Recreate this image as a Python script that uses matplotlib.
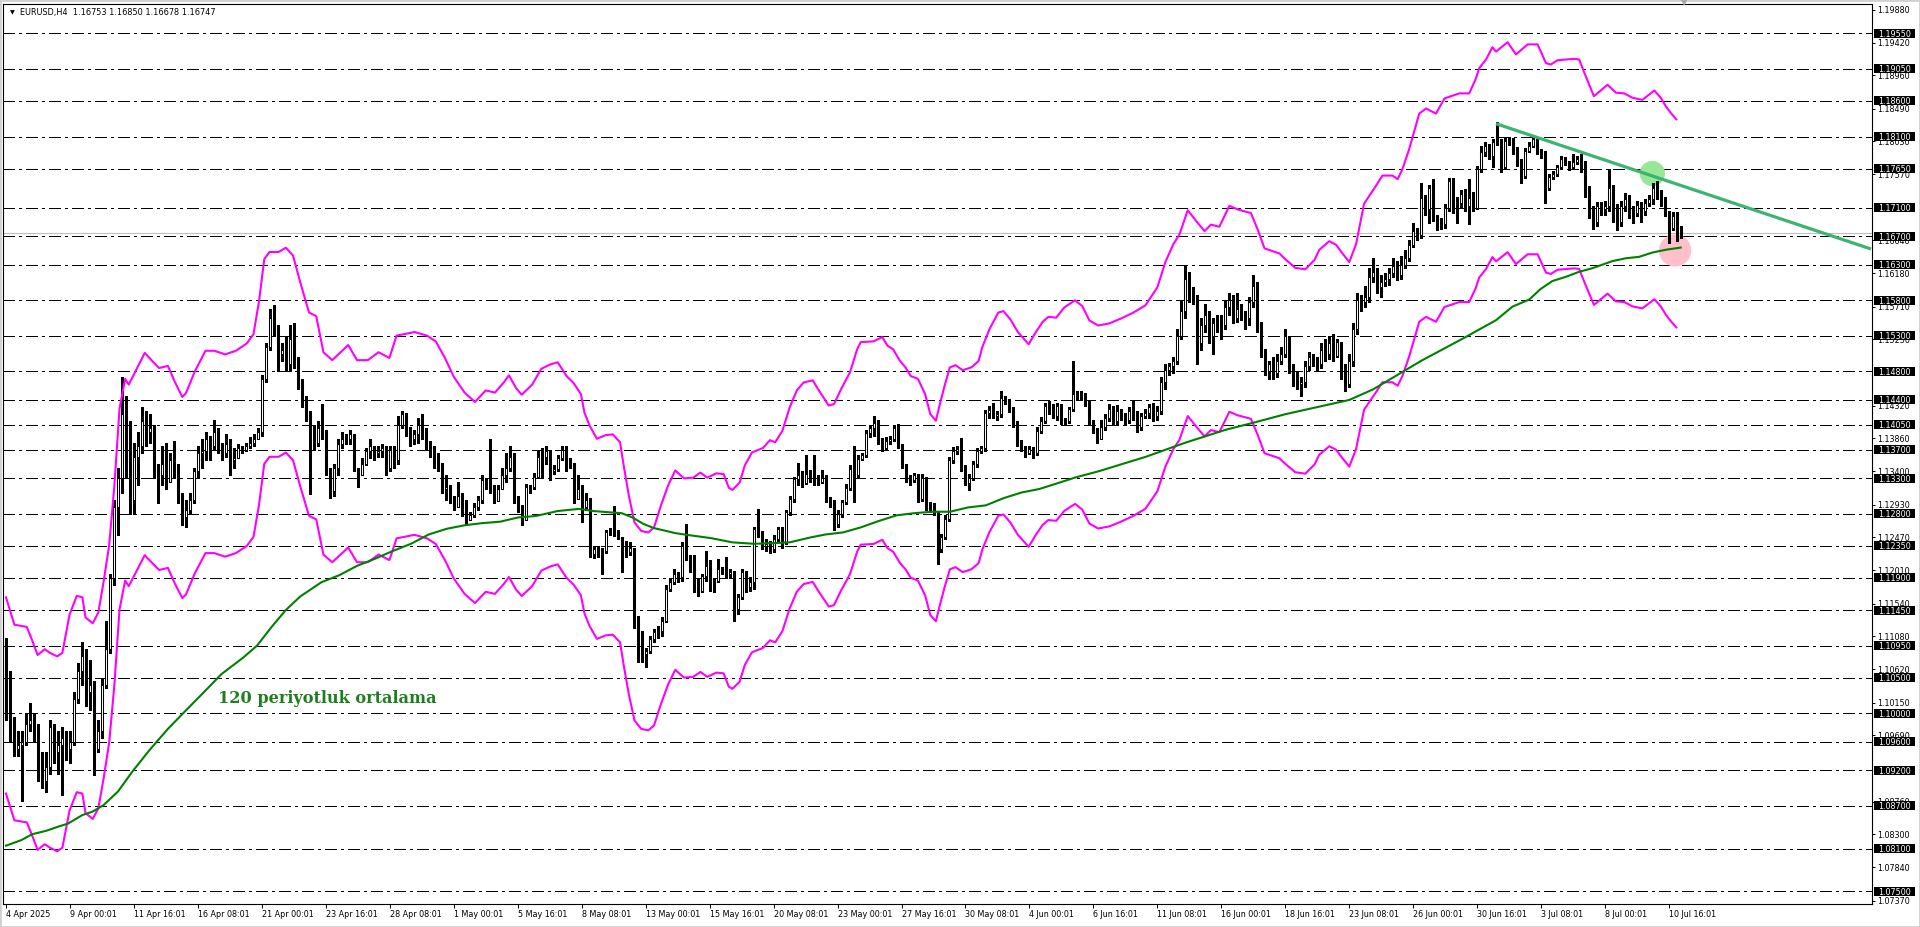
import numpy as np
import matplotlib.pyplot as plt
from matplotlib.patches import Rectangle
import matplotlib.transforms as mtransforms

plt.rcParams['lines.scale_dashes'] = False
plt.rcParams['font.family'] = ['DejaVu Sans']

SYMBOL = "EURUSD"
PERIOD = "H4"

# H4 candles, prices in pips (1.1090 -> 11090); open of a bar = close of the previous one
OPEN_FIRST = 11090
CLOSE = [
    11000, 10985, 10950, 10955, 10960, 10985, 10990, 10975, 10930, 10905, 10925, 10980, 10945, 10955, 10965, 10950,
    10960, 11020, 11060, 11080, 11030, 11040, 10950, 10975,
    11040, 11090, 11190, 11290, 11330, 11420, 11400, 11300, 11360, 11375, 11410, 11395, 11400, 11340, 11335, 11350,
    11325, 11355, 11340, 11305, 11275, 11285, 11300, 11340, 11365, 11368, 11385, 11375, 11395, 11372, 11365, 11378,
    11355, 11358,
    11372, 11370, 11375, 11380, 11385, 11395, 11470, 11515, 11555, 11540, 11505, 11510, 11490, 11525, 11495, 11465,
    11440, 11420, 11400, 11380, 11400, 11395, 11340, 11312, 11345,
    11378, 11385, 11385, 11392, 11345, 11335, 11350, 11368, 11375, 11365, 11368, 11372, 11345, 11370, 11355, 11405,
    11420, 11398, 11385, 11392, 11405, 11395, 11375, 11370,
    11355, 11350, 11315, 11318, 11300, 11290, 11305, 11290, 11272, 11278, 11290, 11300, 11328, 11320, 11315, 11298,
    11315,
    11335, 11345, 11360, 11300, 11288, 11272, 11318, 11318, 11332, 11360,
    11360, 11368, 11340, 11343, 11359, 11370, 11350, 11352, 11301, 11315,
    11290, 11300, 11224, 11230, 11227, 11228, 11254, 11255, 11252, 11248,
    11240, 11226, 11232, 11132, 11114, 11083, 11088, 11104, 11114, 11116,
    11130, 11175, 11184, 11196, 11191, 11235, 11219, 11205, 11175, 11172,
    11193, 11207, 11185, 11186, 11203, 11200, 11196, 11198, 11146, 11163,
    11198, 11177, 11185, 11259, 11252, 11235, 11238, 11231, 11245, 11259,
    11240, 11282, 11301, 11329, 11335, 11324, 11336, 11330, 11327, 11325,
    11331, 11301, 11298, 11266, 11280, 11296, 11317, 11343, 11334, 11357,
    11362, 11394, 11400, 11408, 11383, 11373, 11383, 11385, 11401, 11376,
    11348, 11329, 11327, 11334, 11301, 11330, 11291, 11288, 11282, 11231,
    11247, 11273, 11355, 11369, 11371, 11345, 11324, 11331, 11350, 11369,
    11372, 11422, 11426, 11418, 11420, 11443, 11439, 11427, 11408, 11380,
    11373, 11366, 11371, 11365, 11397, 11411, 11432, 11428, 11418, 11432,
    11411, 11410, 11427, 11448, 11446, 11447, 11436, 11411, 11399, 11385,
    11402, 11415, 11428, 11410, 11425, 11418, 11412, 11425, 11418, 11402, 11418, 11422,
    11430, 11418, 11425, 11465, 11482, 11487, 11495, 11530, 11565, 11610, 11590, 11585,
    11520, 11545, 11560, 11530, 11548, 11550, 11545, 11570, 11580, 11555, 11568, 11560,
    11555, 11578, 11600, 11545, 11505, 11480, 11490, 11478, 11495, 11505, 11530, 11485,
    11475, 11462, 11465, 11488, 11500, 11495, 11490, 11510, 11505, 11520, 11502, 11522,
    11485, 11462, 11495, 11540, 11580, 11578, 11585, 11612, 11620, 11598, 11605, 11610,
    11618, 11628, 11615, 11630, 11640, 11658, 11677, 11672, 11724, 11708, 11738, 11698,
    11689, 11687, 11710, 11748, 11717, 11717, 11729, 11712, 11724, 11710, 11764, 11788,
    11797, 11783, 11802, 11803, 11767, 11804, 11805, 11790, 11776, 11755, 11790, 11797,
    11807, 11788, 11785, 11738, 11753, 11757, 11767, 11779, 11774, 11767, 11774, 11779,
    11770, 11735, 11705, 11690, 11712, 11708, 11712, 11738, 11700, 11690, 11712, 11722,
    11705, 11702, 11714, 11705, 11716, 11722, 11738, 11730, 11718, 11704, 11681, 11699,
    11675.3, 11674.7,
]
HIGH = [
    11106, 11060, 10995, 10975, 10975, 11000, 11015, 11000, 10985, 10945, 10945, 10990, 10985, 10975, 10980, 10975,
    10975, 11030, 11070, 11100, 11090, 11075, 11045, 10990,
    11050, 11130, 11195, 11300, 11345, 11472, 11445, 11410, 11380, 11395, 11430, 11425, 11420, 11405, 11350, 11375,
    11380, 11365, 11382, 11350, 11310, 11300, 11310, 11345, 11375, 11385, 11395, 11390, 11412, 11400, 11380, 11392,
    11385, 11372,
    11378, 11376, 11380, 11388, 11392, 11400, 11475, 11520, 11568, 11573, 11545, 11520, 11530, 11545, 11548, 11500,
    11470, 11445, 11425, 11405, 11410, 11435, 11398, 11345, 11350,
    11385, 11395, 11392, 11398, 11392, 11345, 11358, 11372, 11385, 11375, 11375, 11378, 11375, 11375, 11375, 11418,
    11425, 11422, 11402, 11398, 11415, 11420, 11400, 11382,
    11375, 11365, 11352, 11335, 11320, 11305, 11325, 11310, 11300, 11282, 11295, 11305, 11335, 11330, 11385, 11320,
    11320,
    11345, 11365, 11375, 11365, 11305, 11292, 11322, 11320, 11338, 11370,
    11372, 11375, 11370, 11348, 11362, 11375, 11375, 11358, 11352, 11334,
    11320, 11310, 11302, 11235, 11235, 11232, 11258, 11260, 11291, 11258,
    11245, 11242, 11240, 11228, 11136, 11116, 11092, 11108, 11118, 11122,
    11135, 11180, 11190, 11203, 11198, 11240, 11266, 11222, 11222, 11190,
    11196, 11228, 11215, 11190, 11217, 11206, 11219, 11202, 11200, 11168,
    11202, 11200, 11192, 11262, 11287, 11256, 11245, 11242, 11250, 11262,
    11262, 11286, 11305, 11332, 11352, 11340, 11362, 11342, 11362, 11334,
    11341, 11334, 11304, 11300, 11285, 11300, 11322, 11348, 11376, 11362,
    11366, 11398, 11405, 11418, 11412, 11386, 11388, 11390, 11405, 11406,
    11378, 11350, 11334, 11338, 11336, 11336, 11332, 11296, 11295, 11284,
    11252, 11278, 11360, 11374, 11375, 11387, 11348, 11336, 11354, 11372,
    11376, 11426, 11432, 11436, 11425, 11453, 11446, 11442, 11430, 11410,
    11384, 11376, 11375, 11374, 11402, 11416, 11436, 11438, 11435, 11436,
    11434, 11415, 11430, 11495, 11452, 11452, 11450, 11438, 11412, 11400,
    11412, 11420, 11435, 11432, 11433, 11428, 11422, 11430, 11440, 11425, 11422, 11428,
    11435, 11436, 11432, 11472, 11490, 11492, 11500, 11540, 11580, 11630, 11620, 11598,
    11588, 11555, 11575, 11565, 11555, 11560, 11560, 11580, 11590, 11588, 11590, 11575,
    11565, 11585, 11615, 11605, 11550, 11512, 11495, 11500, 11505, 11515, 11540, 11530,
    11490, 11480, 11472, 11495, 11508, 11505, 11500, 11520, 11525, 11530, 11532, 11525,
    11500, 11490, 11505, 11548, 11590, 11588, 11600, 11625, 11640, 11625, 11615, 11618,
    11625, 11640, 11635, 11642, 11650, 11665, 11689, 11682, 11745, 11728, 11742, 11750,
    11700, 11695, 11715, 11752, 11752, 11725, 11735, 11736, 11750, 11732, 11768, 11797,
    11802, 11800, 11807, 11830, 11806, 11808, 11809, 11808, 11795, 11778, 11794, 11802,
    11810, 11808, 11792, 11790, 11758, 11762, 11770, 11782, 11781, 11776, 11786, 11783,
    11785, 11775, 11740, 11712, 11718, 11718, 11720, 11765, 11742, 11715, 11720, 11730,
    11728, 11712, 11720, 11718, 11722, 11728, 11745, 11748, 11735, 11725, 11706, 11704,
    11704, 11685.0,
]
LOW = [
    10990, 10960, 10940, 10940, 10877, 10955, 10975, 10960, 10905, 10895, 10890, 10915, 10930, 10915, 10885, 10935,
    10930, 10955, 11015, 11040, 11010, 11005, 10913, 10945,
    10965, 11035, 11085, 11180, 11250, 11310, 11330, 11280, 11280, 11320, 11365, 11375, 11380, 11330, 11295, 11320,
    11315, 11325, 11330, 11295, 11265, 11262, 11280, 11295, 11330, 11345, 11355, 11355, 11370, 11365, 11355, 11360,
    11335, 11345,
    11365, 11365, 11368, 11372, 11375, 11388, 11390, 11465, 11510, 11530, 11480, 11495, 11480, 11480, 11485, 11455,
    11430, 11410, 11308, 11370, 11375, 11385, 11335, 11302, 11305,
    11335, 11372, 11378, 11378, 11340, 11318, 11335, 11348, 11358, 11355, 11360, 11360, 11335, 11340, 11345, 11350,
    11400, 11390, 11375, 11378, 11380, 11385, 11370, 11360,
    11345, 11340, 11310, 11300, 11295, 11285, 11290, 11277, 11265, 11272, 11275, 11285, 11295, 11315, 11310, 11295,
    11298,
    11320, 11325, 11340, 11295, 11282, 11265, 11272, 11310, 11315, 11330,
    11330, 11350, 11327, 11336, 11340, 11355, 11340, 11345, 11295, 11303,
    11268, 11285, 11220, 11218, 11220, 11196, 11225, 11250, 11249, 11245,
    11198, 11220, 11222, 11120, 11072, 11072, 11065, 11085, 11100, 11105,
    11108, 11128, 11172, 11182, 11185, 11186, 11215, 11198, 11170, 11165,
    11170, 11186, 11172, 11170, 11184, 11195, 11192, 11190, 11130, 11140,
    11160, 11170, 11172, 11175, 11248, 11230, 11228, 11225, 11226, 11240,
    11232, 11238, 11278, 11296, 11320, 11318, 11322, 11325, 11320, 11320,
    11324, 11296, 11290, 11258, 11262, 11276, 11294, 11314, 11296, 11330,
    11355, 11360, 11388, 11390, 11378, 11368, 11370, 11378, 11382, 11372,
    11344, 11325, 11320, 11325, 11296, 11298, 11286, 11282, 11278, 11210,
    11226, 11245, 11270, 11352, 11364, 11340, 11320, 11313, 11328, 11346,
    11365, 11368, 11415, 11414, 11412, 11416, 11435, 11423, 11402, 11375,
    11368, 11360, 11364, 11358, 11362, 11394, 11408, 11420, 11414, 11412,
    11406, 11405, 11408, 11424, 11440, 11440, 11432, 11406, 11394, 11380,
    11390, 11398, 11410, 11405, 11406, 11412, 11405, 11408, 11412, 11395, 11398, 11414,
    11415, 11410, 11412, 11420, 11455, 11475, 11478, 11490, 11525, 11555, 11578, 11575,
    11490, 11510, 11535, 11520, 11505, 11535, 11525, 11540, 11560, 11548, 11550, 11552,
    11540, 11545, 11570, 11535, 11500, 11475, 11470, 11470, 11472, 11490, 11500, 11478,
    11460, 11455, 11445, 11458, 11482, 11488, 11480, 11485, 11495, 11498, 11495, 11500,
    11470, 11452, 11458, 11488, 11532, 11565, 11570, 11578, 11605, 11590, 11585, 11600,
    11602, 11612, 11608, 11610, 11625, 11635, 11655, 11665, 11668, 11700, 11689, 11692,
    11679, 11680, 11682, 11705, 11703, 11689, 11710, 11705, 11687, 11705, 11708, 11760,
    11783, 11778, 11767, 11798, 11760, 11765, 11798, 11785, 11769, 11745, 11752, 11788,
    11795, 11785, 11780, 11717, 11735, 11750, 11755, 11765, 11770, 11763, 11765, 11772,
    11760, 11725, 11695, 11680, 11684, 11700, 11700, 11706, 11690, 11678, 11685, 11705,
    11695, 11688, 11698, 11690, 11700, 11712, 11715, 11722, 11712, 11698, 11660, 11678,
    11663, 11667.8,
]

# 120 period moving average (bar index, price)
MA_X = [0, 3.9, 6.5, 10.1, 13.2, 15.5, 19.1, 21.7, 24.4, 28, 31.6, 36, 40.5, 45, 49.4, 53.9, 59.3, 62.8, 66.4,
        70, 73.6, 78.9, 83.4, 87.8, 92.3, 96.8, 101.3, 105.7, 110.2, 114.7, 119.1, 123.6, 128.1, 132.5, 138,
        143.3, 146.9, 151.4, 154, 156.7, 159.4, 162.1, 167.4, 171, 176.3, 181.7, 187.1, 192.4, 196, 201.3,
        204.9, 209.4, 213.8, 218.3, 222.8, 227.2, 231.7, 236.1, 240.6, 245.1, 249.5, 254, 258.5, 263, 267.4,
        273.4, 285, 295, 305, 312, 320, 328, 336, 342, 348, 354, 360, 365, 368.5, 372.7, 376.8, 381, 383.9,
        386.8, 390.2, 393.5, 396.8, 401.8, 405.2, 408.5, 411.8, 415.2, 418.9]
MA_Y = [1.0814, 1.0822, 1.0830, 1.0835, 1.0841, 1.0845, 1.0857, 1.0862, 1.0871, 1.0890, 1.0918, 1.0949, 1.0978,
        1.1004, 1.1029, 1.1055, 1.1078, 1.1095, 1.1121, 1.1145, 1.1164, 1.1184, 1.1194, 1.1207, 1.1217, 1.1228,
        1.1238, 1.1251, 1.1259, 1.1264, 1.1267, 1.1269, 1.1275, 1.1277, 1.1284, 1.1287, 1.1284, 1.1282, 1.1281,
        1.1275, 1.1266, 1.1260, 1.1253, 1.1250, 1.1246, 1.1240, 1.1238, 1.1239, 1.1240, 1.1247, 1.1251, 1.1254,
        1.1261, 1.1270, 1.1278, 1.1281, 1.1283, 1.1283, 1.1289, 1.1292, 1.1302, 1.1310, 1.1315, 1.1323, 1.1331,
        1.1340, 1.1360, 1.1380, 1.1398, 1.1408, 1.1420, 1.1430, 1.1440, 1.1455, 1.1475, 1.1495, 1.1513, 1.1528,
        1.1539, 1.1552, 1.1571, 1.1581, 1.1596, 1.1607, 1.1613, 1.1620, 1.1625, 1.1635, 1.1639, 1.1641, 1.1647,
        1.1651, 1.1654]

# envelope middle line (bar index, price); bands are +/- ENV_PCT percent
ENV_PCT = 1.25
ENV_X = [0, 2.1, 5.2, 6.5, 7.9, 9.7, 11, 12.8, 14.1, 15.9, 17.7, 19.1, 19.9, 21.7, 23.1, 24.4, 25.8, 27.1, 28.4,
         29.8, 30.7, 34.7, 36.9, 38.3, 40.5, 42.3, 44.1, 45, 47.2, 49.9, 52.1, 54.8, 57.5, 60.2, 61.9, 63.3, 64.6,
         65.9, 68.2, 70, 71.8, 73.6, 75.8, 77.6, 79.4, 81.6, 85.6, 87.8, 90.5, 93.2, 95.9, 97.7, 100.4, 102.2,
         105.3, 107.5, 109.8, 112, 114.7, 117.3, 120, 122.3, 124.5, 125.8, 127.6, 129, 131.6, 133.9, 136.1, 138,
         140.2, 142, 143.8, 144.7, 146, 147.8, 150, 151.8, 153.6, 154.5, 155.8, 157.2, 158.9, 160.7, 162.1, 163.8,
         165.6, 167.4, 169.6, 171.9, 173.7, 175.4, 177.7, 179.5, 180.8, 181.7, 183.5, 184.8, 186.6, 189.3, 191.1,
         192.4, 194.2, 196, 197.8, 199.5, 201.8, 203.1, 204.5, 205.8, 207.1, 208.9, 211.1, 212.9, 213.8, 217,
         219.2, 220.5, 221.9, 223.6, 225, 226.3, 228.1, 229.9, 231.2, 232.6, 233.5, 234.8, 236.1, 237.5, 239.3,
         241.5, 243.3, 244.2, 246, 248.2, 249.5, 251.3, 253.1, 255.8, 257.6, 259.3, 260.7, 262.7, 264.7, 267.4,
         269.2, 271, 273.2, 276, 279, 282, 285, 288, 290, 292, 293.5, 295.6, 297.7, 299.8, 301.4, 303.5, 306,
         308.1, 311.4, 313.1, 314.8, 318.5, 320.2, 322.5, 325, 327.3, 328.5, 331, 332.7, 334.3, 336, 337.7,
         339.7, 342.7, 344.3, 346.8, 348.1, 349.3, 351, 352.7, 353.5, 355.2, 357.7, 359.8, 363.5, 366, 367.7,
         368.5, 370.2, 371.8, 372.7, 375.6, 377.7, 380.6, 383.1, 385.2, 386.4, 388.1, 392.3, 393.5, 395.2, 397.2,
         400.6, 402.7, 404.8, 406.8, 409.3, 412.3, 413.9, 415.2, 416.4, 417.8]
ENV_MID = [1.1025, 1.0987, 1.0984, 1.0966, 1.0945, 1.0953, 1.0948, 1.0943, 1.0948, 1.1001, 1.1027, 1.1025, 1.0997,
           1.0989, 1.1004, 1.1046, 1.1097, 1.1179, 1.1287, 1.1328, 1.1320, 1.1364, 1.1351, 1.1343, 1.1346, 1.1323,
           1.1303, 1.1308, 1.1338, 1.1367, 1.1367, 1.1362, 1.1367, 1.1377, 1.1390, 1.1436, 1.1494, 1.1504, 1.1504,
           1.1510, 1.1499, 1.1462, 1.1420, 1.1415, 1.1365, 1.1354, 1.1375, 1.1354, 1.1354, 1.1365, 1.1357, 1.1388,
           1.1391, 1.1393, 1.1388, 1.1380, 1.1357, 1.1331, 1.1309, 1.1296, 1.1312, 1.1309, 1.1323, 1.1333, 1.1315,
           1.1306, 1.1320, 1.1342, 1.1348, 1.1351, 1.1332, 1.1322, 1.1307, 1.1281, 1.1263, 1.1245, 1.1250, 1.1251,
           1.1240, 1.1208, 1.1166, 1.1129, 1.1117, 1.1115, 1.1122, 1.1152, 1.1180, 1.1201, 1.1190, 1.1191, 1.1198,
           1.1191, 1.1197, 1.1196, 1.1177, 1.1174, 1.1184, 1.1208, 1.1226, 1.1232, 1.1243, 1.1240, 1.1256, 1.1288,
           1.1312, 1.1323, 1.1326, 1.1314, 1.1302, 1.1291, 1.1293, 1.1314, 1.1337, 1.1369, 1.1379, 1.1380, 1.1386,
           1.1374, 1.1369, 1.1353, 1.1344, 1.1332, 1.1328, 1.1307, 1.1279, 1.1270, 1.1291, 1.1319, 1.1344, 1.1347,
           1.1340, 1.1344, 1.1353, 1.1372, 1.1397, 1.1420, 1.1422, 1.1410, 1.1393, 1.1376, 1.1393, 1.1407, 1.1414,
           1.1413, 1.1427, 1.1437, 1.1429, 1.1409, 1.1402, 1.1405, 1.1412, 1.1420, 1.1430, 1.1455, 1.1490, 1.1515,
           1.1528, 1.1562, 1.1547, 1.1533, 1.1542, 1.1539, 1.1568, 1.1563, 1.1558, 1.1535, 1.1509, 1.1502, 1.1493,
           1.1482, 1.1480, 1.1493, 1.1507, 1.1519, 1.1514, 1.1502, 1.1490, 1.1515, 1.1571, 1.1596, 1.1610, 1.1610,
           1.1605, 1.1619, 1.1647, 1.1680, 1.1696, 1.1703, 1.1696, 1.1717, 1.1724, 1.1724, 1.1745, 1.1759, 1.1771,
           1.1788, 1.1782, 1.1795, 1.1778, 1.1792, 1.1792, 1.1766, 1.1764, 1.1770, 1.1772, 1.1771, 1.1747, 1.1720,
           1.1736, 1.1725, 1.1724, 1.1718, 1.1715, 1.1728, 1.1718, 1.1706, 1.1697, 1.1688]

# horizontal levels drawn on the chart, auto price scale ticks (those fully under a level box left out)
LEVELS = [1.19550, 1.19050, 1.18600, 1.18100, 1.17650, 1.17100, 1.16700, 1.16300, 1.15800, 1.15300, 1.14800,
          1.14400, 1.14050, 1.13700, 1.13300, 1.12800, 1.12350, 1.11900, 1.11450, 1.10950, 1.10500, 1.10000,
          1.09600, 1.09200, 1.08700, 1.08100, 1.07500]
PRICE_TICKS = [1.19880, 1.19420, 1.18960, 1.18490, 1.18030, 1.17570, 1.16640, 1.16180, 1.15710, 1.15250,
               1.14320, 1.13860, 1.13400, 1.12930, 1.12470, 1.12010, 1.11540, 1.11080, 1.10620, 1.10150,
               1.09690, 1.08760, 1.08300, 1.07840, 1.07370]

DATE_TICKS = [0, 16, 32, 48, 64, 80, 96, 112, 128, 144, 160, 176, 192, 208, 224, 240, 256, 272, 288, 304, 320,
              336, 352, 368, 384, 400, 416]
DATE_LABELS = ["4 Apr 2025", "9 Apr 00:01", "11 Apr 16:01", "16 Apr 08:01", "21 Apr 00:01", "23 Apr 16:01",
               "28 Apr 08:01", "1 May 00:01", "5 May 16:01", "8 May 08:01", "13 May 00:01", "15 May 16:01",
               "20 May 08:01", "23 May 00:01", "27 May 16:01", "30 May 08:01", "4 Jun 00:01", "6 Jun 16:01",
               "11 Jun 08:01", "16 Jun 00:01", "18 Jun 16:01", "23 Jun 08:01", "26 Jun 00:01", "30 Jun 16:01",
               "3 Jul 08:01", "8 Jul 00:01", "10 Jul 16:01"]

# trend line anchors and marker circles
TREND_X = [372.7, 466.5]
TREND_Y = [1.1828, 1.1652]
MARK_X = [411.8, 417.5]
MARK_Y = [1.1758, 1.1650]

NOTE_TEXT = "120 periyotluk ortalama"
NOTE_X, NOTE_Y = 53.0, 1.1015


W, H = 1920, 927
fig = plt.figure(figsize=(W / 100, H / 100), dpi=100)
fig.patch.set_facecolor('white')
ax = fig.add_axes([3 / W, 1 - 904 / H, (1872 - 3) / W, 900 / H])
ax.set_xlim(-0.75, 466.75)
ax.set_ylim(1.07321, 1.19961)
for s in ax.spines.values():
    s.set_color('black')
    s.set_linewidth(0.8)

c = np.array(CLOSE, dtype=float) / 1e4
h = np.array(HIGH, dtype=float) / 1e4
l = np.array(LOW, dtype=float) / 1e4
o = np.concatenate([[OPEN_FIRST / 1e4], c[:-1]])
h = np.maximum.reduce([h, o, c])
l = np.minimum.reduce([l, o, c])
x = np.arange(len(c))

# dash-dot levels
for lv in LEVELS:
    ax.axhline(lv, color='black', lw=0.75, dashes=(8.5, 3.0, 2.0, 3.0), zorder=1, antialiased=False)

# bid line
ax.axhline(c[-1], color='#c0c0c0', lw=0.8, zorder=1.2)

# circles
ax.scatter(MARK_X, MARK_Y, s=[330, 540], c=['#98e698', '#ffc0cb'], linewidths=0, zorder=1.5)

# candles
ax.vlines(x, l, h, color='black', lw=0.75, zorder=3, antialiased=False)
up = c >= o
ax.bar(x[up], (c - o)[up], bottom=o[up], width=0.5, facecolor='white', edgecolor='black',
       linewidth=0.75, zorder=3.5)
ax.bar(x[~up], (o - c)[~up], bottom=c[~up], width=0.5, facecolor='black', edgecolor='black',
       linewidth=0.75, zorder=3.5)

# indicators
env_mid = np.array(ENV_MID)
ax.plot(ENV_X, env_mid * (1 + ENV_PCT / 100), color='#ff00ff', lw=1.5, zorder=4)
ax.plot(ENV_X, env_mid * (1 - ENV_PCT / 100), color='#ff00ff', lw=1.5, zorder=4)
ax.plot(MA_X, MA_Y, color='#008000', lw=1.5, zorder=4)
ax.plot(TREND_X, TREND_Y, color='#3cb371', lw=2.3, zorder=4.5, solid_capstyle='butt')

ax.text(NOTE_X, NOTE_Y, NOTE_TEXT, family='DejaVu Serif', weight='bold', fontsize=11.6,
        color='#1f7f1f', ha='left', va='baseline', zorder=5)

# price scale on the right
ax.yaxis.tick_right()
ax.set_yticks(PRICE_TICKS)
ax.set_yticklabels([f"{v:.5f}" for v in PRICE_TICKS])
ax.tick_params(axis='y', which='both', length=2.5, width=0.7, pad=1.5, labelsize=5.8, colors='black')

# highlighted level labels
trans = mtransforms.blended_transform_factory(ax.transAxes, ax.transData)
box_h = 9 / (900 / (1.19961 - 1.07321))
box_x0 = (1874 - 3) / (1872 - 3)
box_w = 41 / (1872 - 3)
for lv in LEVELS:
    ax.add_patch(Rectangle((box_x0, lv - box_h / 2), box_w, box_h, transform=trans, facecolor='black',
                           edgecolor='none', clip_on=False, zorder=6))
    ax.text(box_x0 + box_w / 2, lv, f"{lv:.5f}", transform=trans, color='white', fontsize=5.8,
            ha='center', va='center_baseline', clip_on=False, zorder=7)

# time scale
ax.set_xticks(DATE_TICKS)
ax.set_xticklabels(DATE_LABELS)
ax.tick_params(axis='x', length=3, width=0.7, pad=1.2, labelsize=5.8, colors='black')
for lab in ax.get_xticklabels():
    lab.set_ha('left')

# header and chart shift marker
fig.text(10 / W, 1 - 13 / H, "\u25bc", fontsize=4.5, ha='left', va='center', color='black')
fig.text(20 / W, 1 - 13 / H,
         f"{SYMBOL},{PERIOD}  {o[-1]:.5f} {h[-1]:.5f} {l[-1]:.5f} {c[-1]:.5f}",
         fontsize=5.9, ha='left', va='center', color='black')
fig.text(1684 / W, 1 - 3 / H, "\u25bc", fontsize=6, ha='center', va='center', color='#a8a8a8')

fig.patches.append(Rectangle((0, 0), 1, 1, transform=fig.transFigure, fill=False,
                             edgecolor='#d0d0d0', lw=2))

fig.savefig('out.png', dpi=100)
